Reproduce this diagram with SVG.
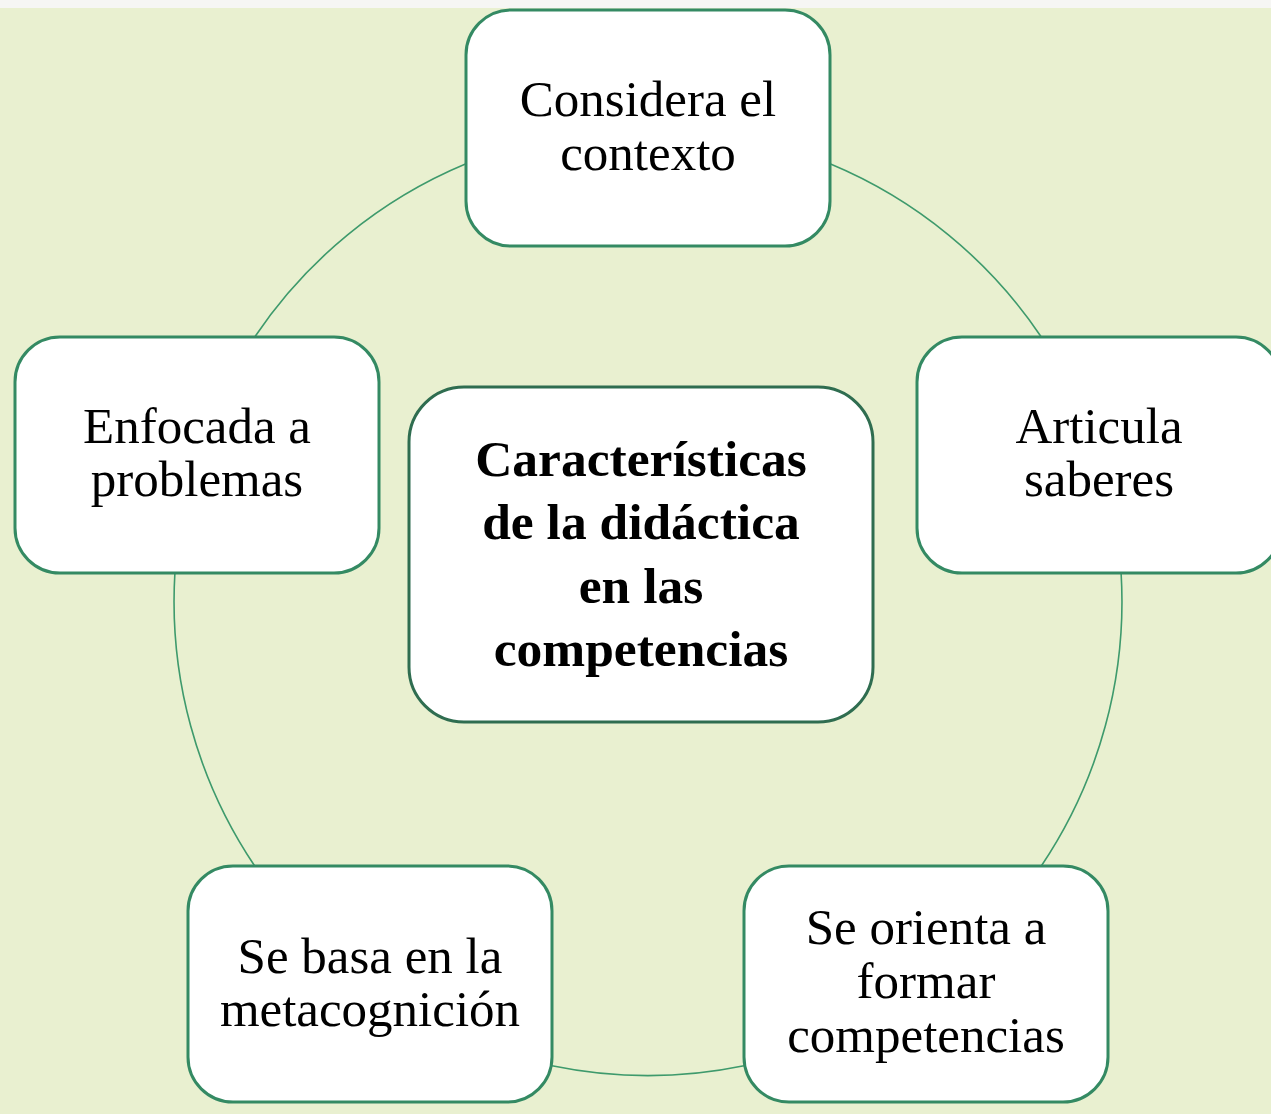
<svg xmlns="http://www.w3.org/2000/svg" width="1271" height="1114" viewBox="0 0 1271 1114">
<style>
.box{fill:#ffffff;stroke:#348a63;stroke-width:3}
.core{fill:#ffffff;stroke:#2f6d50;stroke-width:3}
.lnk{fill:none;stroke:#3e9a6c;stroke-width:1.6}
text{font-family:"Liberation Serif","Times New Roman",serif;fill:#000;text-anchor:middle}
.t{font-size:51px}
.b{font-size:51.5px;font-weight:bold}
</style>
<rect x="0" y="0" width="1271" height="1114" fill="#e9f0d0"/>
<rect x="0" y="0" width="1271" height="8" fill="#f6f6f4"/>
<g id="connectors">
<path class="lnk" d="M830 163.8 A474 474 0 0 1 1041.3 337"/>
<path class="lnk" d="M1121.1 573 A474 474 0 0 1 1041.3 866"/>
<path class="lnk" d="M744 1065.7 A474 474 0 0 1 552 1065.7"/>
<path class="lnk" d="M254.7 866 A474 474 0 0 1 174.9 573"/>
<path class="lnk" d="M254.7 337 A474 474 0 0 1 466 163.8"/>
</g>
<g id="center">
<rect class="core" x="409" y="387" width="464" height="335" rx="55"/>
<text class="b" x="641" y="476">Características</text>
<text class="b" x="641" y="539">de la didáctica</text>
<text class="b" x="641" y="603">en las</text>
<text class="b" x="641" y="666">competencias</text>
</g>
<g id="n-contexto">
<rect class="box" x="466" y="10" width="364" height="236" rx="45"/>
<text class="t" x="648" y="116">Considera el</text>
<text class="t" x="648" y="170">contexto</text>
</g>
<g id="n-articula">
<rect class="box" x="917" y="337" width="364" height="236" rx="45"/>
<text class="t" x="1099" y="443">Articula</text>
<text class="t" x="1099" y="496">saberes</text>
</g>
<g id="n-orienta">
<rect class="box" x="744" y="866" width="364" height="236" rx="45"/>
<text class="t" x="926" y="944">Se orienta a</text>
<text class="t" x="926" y="998">formar</text>
<text class="t" x="926" y="1052">competencias</text>
</g>
<g id="n-metacognicion">
<rect class="box" x="188" y="866" width="364" height="236" rx="45"/>
<text class="t" x="370" y="973">Se basa en la</text>
<text class="t" x="370" y="1026">metacognición</text>
</g>
<g id="n-problemas">
<rect class="box" x="15" y="337" width="364" height="236" rx="45"/>
<text class="t" x="197" y="443">Enfocada a</text>
<text class="t" x="197" y="496">problemas</text>
</g>
</svg>
